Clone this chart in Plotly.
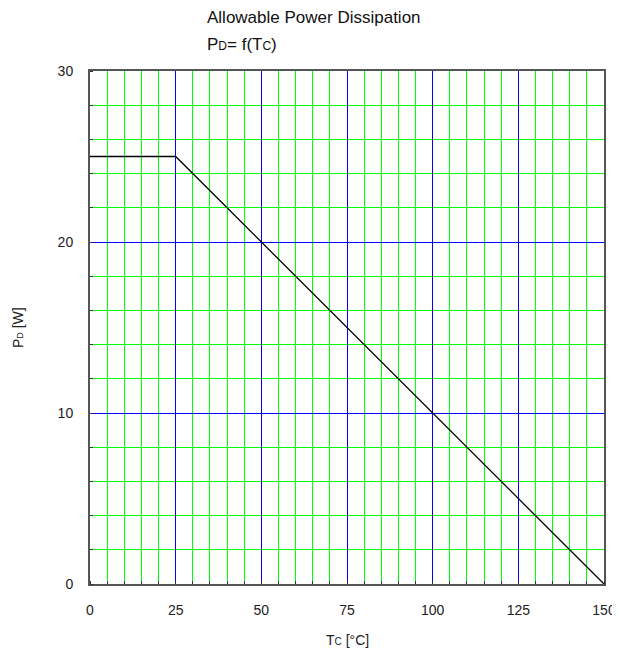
import plotly.graph_objects as go

tc = [0, 25, 150]
pd_w = [25, 25, 0]
x_ticks = [0, 25, 50, 75, 100, 125, 150]
y_ticks = [0, 10, 20, 30]

FONT = "Liberation Sans, Arial, sans-serif"
OFF = 8  # default page body margin
W, H = 620 - OFF, 657 - OFF
L, R, T, B = 90 - OFF, 16, 71 - OFF, 73
PW, PH = W - L - R, H - T - B

fig = go.Figure()
fig.add_trace(go.Scatter(x=tc, y=pd_w, mode="lines",
                         line=dict(color="black", width=1.3), showlegend=False))

axis_common = dict(
    showline=True, mirror=True, linecolor="#555555", linewidth=2,
    gridcolor="#0000ff", gridwidth=1, zeroline=False, automargin=False,
    ticks="", tickfont=dict(family=FONT, size=14, color="#222"),
    ticklabelstandoff=12,
)
fig.update_xaxes(range=[0, 150], tickvals=x_ticks,
                 minor=dict(dtick=5, showgrid=True, gridcolor="#00ff00", gridwidth=1,
                            ticks="inside", ticklen=3, tickcolor="#333"),
                 **axis_common)
fig.update_yaxes(range=[0, 30], tickvals=y_ticks,
                 minor=dict(dtick=2, showgrid=True, gridcolor="#00ff00", gridwidth=1,
                            ticks="inside", ticklen=3, tickcolor="#333"),
                 **axis_common)

def px_x(p):
    return (p - OFF - L) / PW

def px_y(p):
    return 1 - (p - OFF - T) / PH

fig.add_annotation(text="Allowable Power Dissipation", xref="paper", yref="paper",
                   x=px_x(205), y=px_y(18), xanchor="left", yanchor="middle",
                   showarrow=False, font=dict(family=FONT, size=17, color="#111"))
fig.add_annotation(text='P<span style="font-size:12px">D</span>= f(T<span style="font-size:12px">C</span>)',
                   xref="paper", yref="paper",
                   x=px_x(205), y=px_y(44), xanchor="left", yanchor="middle",
                   showarrow=False, font=dict(family=FONT, size=17, color="#111"))
fig.add_annotation(text='T<span style="font-size:10px">C</span> [°C]', xref="paper", yref="paper",
                   x=px_x(347), y=px_y(640), xanchor="center", yanchor="middle",
                   showarrow=False, font=dict(family=FONT, size=14, color="#222"))
fig.add_annotation(text='P<span style="font-size:9px">D</span> [W]', xref="paper", yref="paper",
                   x=px_x(18), y=px_y(328), xanchor="center", yanchor="middle", textangle=-90,
                   showarrow=False, font=dict(family=FONT, size=14, color="#222"))

fig.update_layout(width=W, height=H, margin=dict(l=L, r=R, t=T, b=B),
                  plot_bgcolor="white", paper_bgcolor="white",
                  font=dict(family=FONT))
fig.write_html("out.html")
